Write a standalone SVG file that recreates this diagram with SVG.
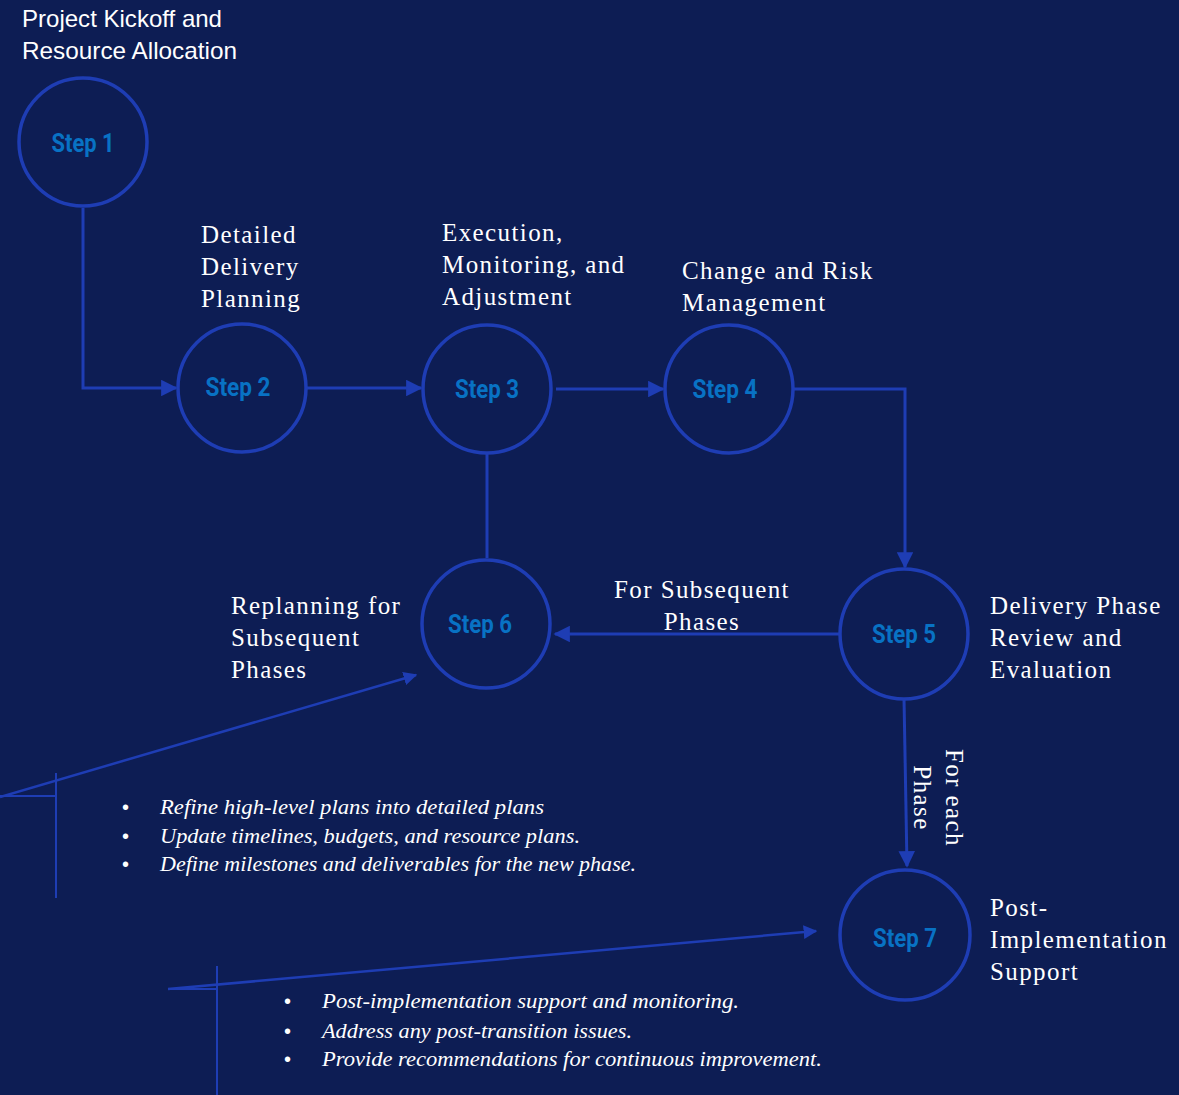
<svg xmlns="http://www.w3.org/2000/svg" width="1179" height="1095" viewBox="0 0 1179 1095">
<defs>
<marker id="arr" viewBox="0 0 10 10" refX="9" refY="5" markerWidth="5.5" markerHeight="5.5" orient="auto" markerUnits="strokeWidth">
<path d="M0,0 L10,5 L0,10 z" fill="#1e3db4"/>
</marker>
<style>
.node circle{fill:none;stroke:#1e3db4;stroke-width:3.5}
.step{font-family:"Liberation Sans Narrow","Roboto","Liberation Sans",sans-serif;font-weight:bold;font-size:25px;fill:#0872c4;text-anchor:middle}
.lbl{font-family:"Liberation Serif","Times New Roman",serif;font-size:25px;fill:#ffffff;letter-spacing:1.4px}
.sans{font-family:"Liberation Sans","Arial",sans-serif;font-size:24px;fill:#ffffff}
.bul{font-family:"Liberation Serif","Times New Roman",serif;font-style:italic;font-size:21px;fill:#ffffff}
.dot{font-family:"Liberation Sans",sans-serif;font-size:20px;fill:#ffffff}
.con path{fill:none;stroke:#1e3db4;stroke-width:3}
.thin line{stroke:#1e3db4;stroke-width:2}
</style>
</defs>
<rect width="1179" height="1095" fill="#0d1d54"/>

<g id="connectors" class="con">
<path d="M83,208 V388 H176" marker-end="url(#arr)"/>
<path d="M306,388 H421" marker-end="url(#arr)"/>
<path d="M556,389 H663" marker-end="url(#arr)"/>
<path d="M794,389 H905 V567" marker-end="url(#arr)"/>
<path d="M840,634 H555" marker-end="url(#arr)"/>
<path d="M487,454 V558"/>
<path d="M904,698 L907,866" marker-end="url(#arr)"/>
<path d="M0,797 L416,675" marker-end="url(#arr)" style="stroke-width:2.5"/>
<path d="M168,989 L816,931" marker-end="url(#arr)" style="stroke-width:2.5"/>
</g>
<g class="thin">
<line x1="0" y1="796" x2="56" y2="796"/>
<line x1="56" y1="773" x2="56" y2="898"/>
<line x1="168" y1="989" x2="217" y2="989"/>
<line x1="217" y1="966" x2="217" y2="1095"/>
</g>

<g id="step1" class="node">
<circle cx="83" cy="142" r="64"/>
<text class="step" x="83" y="152" textLength="63" lengthAdjust="spacingAndGlyphs">Step 1</text>
<text class="sans" x="22" y="27" textLength="200" lengthAdjust="spacingAndGlyphs">Project Kickoff and</text>
<text class="sans" x="22" y="59" textLength="215" lengthAdjust="spacingAndGlyphs">Resource Allocation</text>
</g>

<g id="step2" class="node">
<circle cx="242" cy="388" r="64"/>
<text class="step" x="238" y="396" textLength="65" lengthAdjust="spacingAndGlyphs">Step 2</text>
<text class="lbl" x="201" y="243">Detailed</text>
<text class="lbl" x="201" y="275">Delivery</text>
<text class="lbl" x="201" y="307">Planning</text>
</g>

<g id="step3" class="node">
<circle cx="487" cy="389" r="64"/>
<text class="step" x="487" y="398" textLength="64" lengthAdjust="spacingAndGlyphs">Step 3</text>
<text class="lbl" x="442" y="241">Execution,</text>
<text class="lbl" x="442" y="273">Monitoring, and</text>
<text class="lbl" x="442" y="305">Adjustment</text>
</g>

<g id="step4" class="node">
<circle cx="729" cy="389" r="64"/>
<text class="step" x="725" y="398" textLength="65" lengthAdjust="spacingAndGlyphs">Step 4</text>
<text class="lbl" x="682" y="279">Change and Risk</text>
<text class="lbl" x="682" y="311">Management</text>
</g>

<g id="step5" class="node">
<ellipse cx="904" cy="634" rx="64" ry="65" fill="none" stroke="#1e3db4" stroke-width="3.5"/>
<text class="step" x="904" y="643" textLength="64" lengthAdjust="spacingAndGlyphs">Step 5</text>
<text class="lbl" x="990" y="614">Delivery Phase</text>
<text class="lbl" x="990" y="646">Review and</text>
<text class="lbl" x="990" y="678">Evaluation</text>
</g>

<g id="step6" class="node">
<circle cx="486" cy="624" r="64"/>
<text class="step" x="480" y="633" textLength="64" lengthAdjust="spacingAndGlyphs">Step 6</text>
<text class="lbl" x="231" y="614">Replanning for</text>
<text class="lbl" x="231" y="646">Subsequent</text>
<text class="lbl" x="231" y="678">Phases</text>
</g>

<g id="step7" class="node">
<circle cx="905" cy="935" r="65"/>
<text class="step" x="905" y="947" textLength="64" lengthAdjust="spacingAndGlyphs">Step 7</text>
<text class="lbl" x="990" y="916">Post-</text>
<text class="lbl" x="990" y="948">Implementation</text>
<text class="lbl" x="990" y="980">Support</text>
</g>

<g id="edge-labels">
<text class="lbl" x="702" y="598" text-anchor="middle">For Subsequent</text>
<text class="lbl" x="702" y="630" text-anchor="middle">Phases</text>
<text class="lbl" transform="translate(946,798) rotate(90)" text-anchor="middle">For each</text>
<text class="lbl" transform="translate(914,798) rotate(90)" text-anchor="middle">Phase</text>
</g>

<g id="notes6">
<text class="dot" x="122" y="814">•</text>
<text class="dot" x="122" y="843">•</text>
<text class="dot" x="122" y="871">•</text>
<text class="bul" x="160" y="814" textLength="384" lengthAdjust="spacingAndGlyphs">Refine high-level plans into detailed  plans</text>
<text class="bul" x="160" y="843" textLength="420" lengthAdjust="spacingAndGlyphs">Update timelines, budgets, and resource plans.</text>
<text class="bul" x="160" y="871" textLength="476" lengthAdjust="spacingAndGlyphs">Define milestones and deliverables for the new phase.</text>
</g>

<g id="notes7">
<text class="dot" x="284" y="1008">•</text>
<text class="dot" x="284" y="1038">•</text>
<text class="dot" x="284" y="1066">•</text>
<text class="bul" x="322" y="1008" textLength="417" lengthAdjust="spacingAndGlyphs">Post-implementation support and monitoring.</text>
<text class="bul" x="322" y="1038" textLength="310" lengthAdjust="spacingAndGlyphs">Address any post-transition issues.</text>
<text class="bul" x="322" y="1066" textLength="500" lengthAdjust="spacingAndGlyphs">Provide recommendations for continuous improvement.</text>
</g>
</svg>
